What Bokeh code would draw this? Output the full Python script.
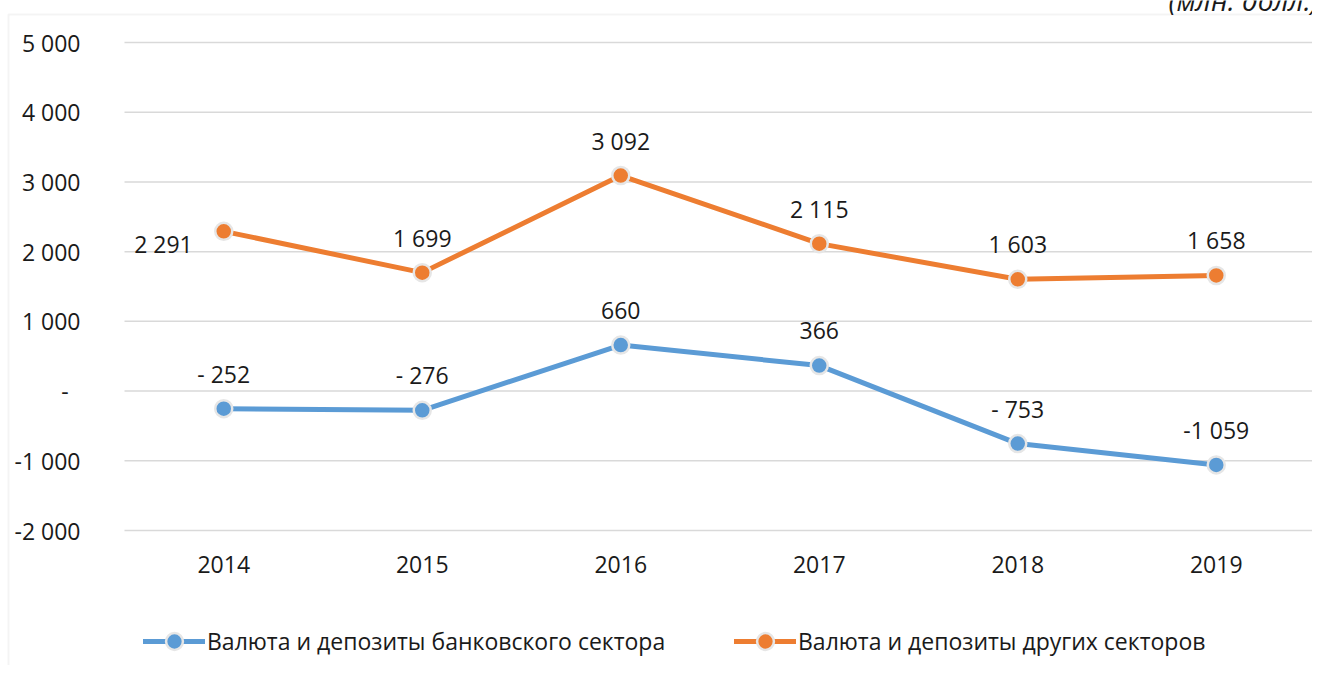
from bokeh.plotting import figure
from bokeh.models import (ColumnDataSource, Legend, LegendItem,
                          Label, BoxAnnotation, Range1d)
from bokeh.core.properties import value
from bokeh.embed import file_html
from bokeh.resources import INLINE

# ---------------- data ----------------
years = [2014, 2015, 2016, 2017, 2018, 2019]
year_labels = ["2014", "2015", "2016", "2017", "2018", "2019"]
bank = [-252, -276, 660, 366, -753, -1059]
other = [2291, 1699, 3092, 2115, 1603, 1658]
bank_labels = ["- 252", "- 276", "660", "366", "- 753", "-1 059"]
other_labels = ["2 291", "1 699", "3 092", "2 115", "1 603", "1 658"]
y_ticks = [-2000, -1000, 0, 1000, 2000, 3000, 4000, 5000]
y_tick_labels = ["-2 000", "-1 000", "-\u00a0\u00a0", "1 000", "2 000",
                 "3 000", "4 000", "5 000"]
series_names = ["Валюта и депозиты банковского сектора",
                "Валюта и депозиты других секторов"]
unit_note = "(млн. долл.)"

# ---------------- style / layout ----------------
FONT = "Open Sans"
FS = "23px"
BLUE = "#5B9BD5"
ORANGE = "#ED7D31"
GRID = "#D9D9D9"
TXT = "#1a1a1a"

W, H = 1312, 665
PLOT_L, PLOT_T, PLOT_B = 124, 42, 530     # plot area in pixels
CAT_W = 198.5                              # pixels per category
PX_PER_UNIT = (PLOT_B - PLOT_T) / (max(y_ticks) - min(y_ticks))

x0 = years[0] - 0.5 - PLOT_L / CAT_W
x1 = x0 + W / CAT_W
y1 = max(y_ticks) + PLOT_T / PX_PER_UNIT
y0 = min(y_ticks) - (H - PLOT_B) / PX_PER_UNIT

p = figure(width=W, height=H, x_range=Range1d(x0, x1), y_range=Range1d(y0, y1),
           output_backend="svg", toolbar_location=None, title=None,
           x_axis_type=None, y_axis_type=None,
           min_border=0)
p.outline_line_color = None
p.background_fill_color = "white"
p.border_fill_color = "white"

# horizontal gridlines over the category span
grid_src = ColumnDataSource(dict(
    x0=[years[0] - 0.5] * len(y_ticks), x1=[years[-1] + 0.5] * len(y_ticks),
    y=y_ticks, lab=y_tick_labels))
p.segment(x0="x0", y0="y", x1="x1", y1="y", source=grid_src,
          line_color=GRID, line_width=1.5)
# y tick labels
p.text(x="x0", y="y", text="lab", source=grid_src, text_align="right",
       text_baseline="middle", x_offset=-44, text_font=value(FONT),
       text_font_size=FS, text_color=TXT)
# x tick labels
xl_src = ColumnDataSource(dict(x=years, y=[min(y_ticks)] * len(years),
                               lab=year_labels))
p.text(x="x", y="y", text="lab", source=xl_src, text_align="center",
       text_baseline="middle", y_offset=34, text_font=value(FONT),
       text_font_size=FS, text_color=TXT)

# border around chart
p.add_layout(BoxAnnotation(left=8, right=W + 100, top=H - 14, bottom=-100,
                           left_units="screen", right_units="screen",
                           top_units="screen", bottom_units="screen",
                           fill_alpha=0, line_color=GRID, line_width=2))

src_b = ColumnDataSource(dict(x=years, y=bank, lab=bank_labels))
src_o = ColumnDataSource(dict(x=years, y=other, lab=other_labels,
                              xo=[-31, 0, 0, 0, 0, 0],
                              yo=[13, -35, -35, -35, -35, -35],
                              al=["right", "center", "center", "center", "center", "center"]))

lb = p.line("x", "y", source=src_b, line_color=BLUE, line_width=5,
            line_cap="round", line_join="round")
sb = p.scatter("x", "y", source=src_b, size=17, fill_color=BLUE,
               line_color="#E6E6E6", line_width=2.5)
lo = p.line("x", "y", source=src_o, line_color=ORANGE, line_width=5,
            line_cap="round", line_join="round")
so = p.scatter("x", "y", source=src_o, size=17, fill_color=ORANGE,
               line_color="#E6E6E6", line_width=2.5)

p.text("x", "y", text="lab", source=src_b, text_align="center",
       text_baseline="middle", y_offset=-35, text_font=value(FONT),
       text_font_size=FS, text_color=TXT)
p.text("x", "y", text="lab", source=src_o, text_align="al",
       text_baseline="middle", x_offset="xo", y_offset="yo",
       text_font=value(FONT), text_font_size=FS, text_color=TXT)

for item, xloc in ((LegendItem(label=series_names[0], renderers=[lb, sb]), 143),
                   (LegendItem(label=series_names[1], renderers=[lo, so]), 734)):
    lg = Legend(items=[item], location=(xloc, 3), orientation="horizontal",
                padding=0, margin=0, spacing=0, glyph_width=62, glyph_height=42,
                label_standoff=2, border_line_color=None,
                background_fill_alpha=0, label_text_font=FONT,
                label_text_font_size=FS, label_text_color=TXT)
    p.add_layout(lg, "center")

p.add_layout(Label(x=1168, y=H + 1, x_units="screen", y_units="screen",
                   text=unit_note, text_font=FONT, text_font_size="28px",
                   text_font_style="italic", text_color=TXT,
                   text_baseline="alphabetic"))

open("out.html", "w").write(file_html(p, INLINE))
